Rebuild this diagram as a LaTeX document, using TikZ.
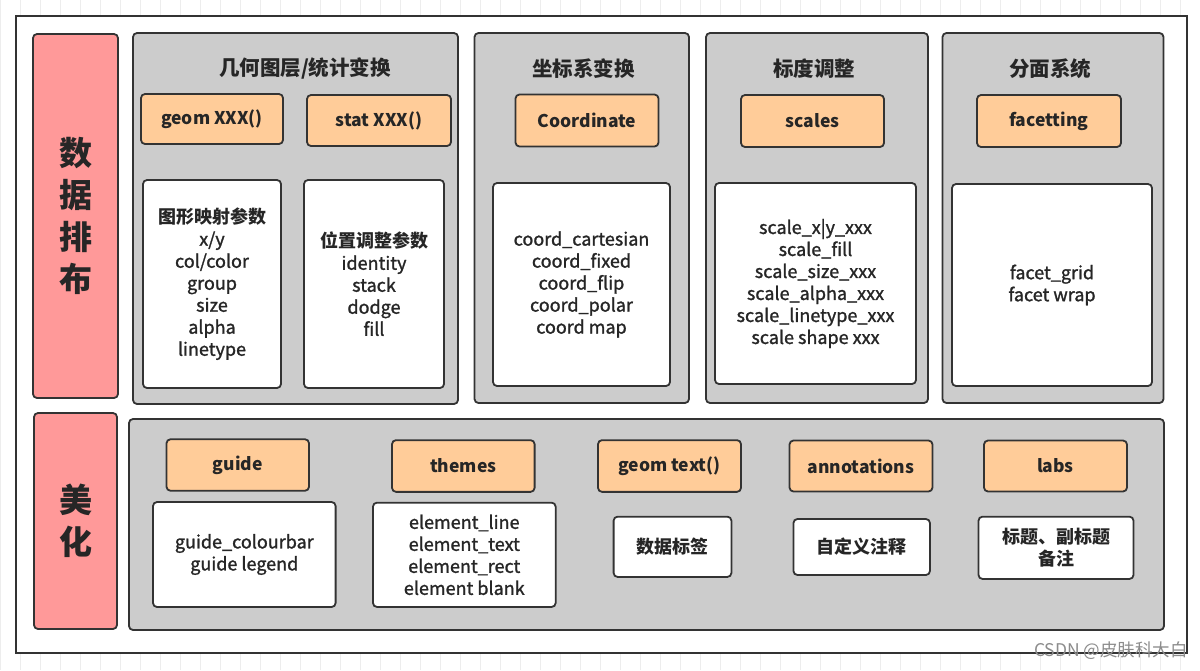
\documentclass[tikz,border=0pt]{standalone}
\usepackage{fontspec}
\setmainfont{Noto Sans CJK SC}
\newfontfamily\medfont[FakeBold=1.3]{Noto Sans CJK SC}
\definecolor{catred}{HTML}{FF9999}
\definecolor{tagorange}{HTML}{FFCC99}
\definecolor{panelgray}{HTML}{CCCCCC}
\definecolor{edge}{HTML}{333333}
\definecolor{ink}{HTML}{262626}
\begin{document}
\begin{tikzpicture}[x=1pt,y=-1pt,
  gridline/.style={draw=black!7, line width=0.6pt},
  frame/.style={draw=edge, line width=1.8pt, fill=white, inner sep=0pt},
  box/.style={draw=edge, line width=1.8pt, rounded corners=4pt, inner sep=0pt, align=center, text=ink},
  catbox/.style={box, fill=catred, font=\fontsize{33}{42}\selectfont\bfseries},
  panel/.style={box, fill=panelgray},
  title/.style={inner sep=0pt, text=ink, font=\fontsize{20.5}{24}\selectfont\bfseries},
  tag/.style={box, fill=tagorange, font=\fontsize{17.5}{22}\selectfont\bfseries},
  card/.style={box, fill=white, font=\fontsize{18}{22}\medfont},
  cjkcard/.style={box, fill=white, font=\fontsize{18}{22}\selectfont\bfseries},
  wmark/.style={inner sep=0pt, text=black!45, font=\fontsize{17.5}{20}\selectfont, anchor=east}
]
\useasboundingbox (0,0) rectangle (1200,670);
\fill[white] (0,0) rectangle (1200,670);
\draw[gridline] (0,0) grid[step=20] (1200,670);

\node[frame, minimum width=1171, minimum height=637] (frame) at (601.5,334.5) {};

% category bars
\node[catbox, minimum width=85, minimum height=364] (cat1) at (75.5,216) {数\\据\\排\\布};
\node[catbox, minimum width=83, minimum height=216] (cat2) at (75.5,521) {美\\化};

% panels
\node[panel, minimum width=325, minimum height=371] (p1) at (295.5,218.5) {};
\node[panel, minimum width=214.5, minimum height=370] (p2) at (581.75,218) {};
\node[panel, minimum width=222, minimum height=370] (p3) at (817,218) {};
\node[panel, minimum width=221, minimum height=370] (p4) at (1053,218) {};
\node[panel, minimum width=1035, minimum height=211] (p5) at (646.5,524.5) {};

% titles
\node[title] (t1) at (305,68) {几何图层/统计变换};
\node[title] (t2) at (583.5,69) {坐标系变换};
\node[title] (t3) at (814,69) {标度调整};
\node[title] (t4) at (1050,69) {分面系统};

% orange tags
\node[tag, minimum width=142, minimum height=50] (geom) at (212,119) {geom XXX()};
\node[tag, minimum width=144, minimum height=51] (stat) at (379,120.5) {stat XXX()};
\node[tag, minimum width=143, minimum height=52] (coord) at (587,120.5) {Coordinate};
\node[tag, minimum width=143, minimum height=52] (scales) at (812.5,121) {scales};
\node[tag, minimum width=144, minimum height=52] (facet) at (1049,121) {facetting};
\node[tag, minimum width=142.5, minimum height=51.5] (guide) at (237.75,465) {guide};
\node[tag, minimum width=142.6, minimum height=51.7] (themes) at (463.3,466) {themes};
\node[tag, minimum width=143, minimum height=51.7] (gtext) at (669.5,466) {geom text()};
\node[tag, minimum width=143, minimum height=51] (annot) at (861,466) {annotations};
\node[tag, minimum width=143, minimum height=51] (labs) at (1055.5,466) {labs};

% white cards
\node[card, minimum width=138, minimum height=208] (w1) at (212,284)
  {{\fontspec{Noto Sans CJK SC}\bfseries 图形映射参数}\\x/y\\col/color\\group\\size\\alpha\\linetype};
\node[card, minimum width=140, minimum height=208] (w2) at (374,284)
  {{\fontspec{Noto Sans CJK SC}\bfseries 位置调整参数}\\identity\\stack\\dodge\\fill};
\node[card, minimum width=177, minimum height=203] (w3) at (581.5,284.5)
  {coord\_cartesian\\coord\_fixed\\coord\_flip\\coord\_polar\\coord map};
\node[card, minimum width=201, minimum height=201] (w4) at (815.5,283.5)
  {scale\_x|y\_xxx\\scale\_fill\\scale\_size\_xxx\\scale\_alpha\_xxx\\scale\_linetype\_xxx\\scale shape xxx};
\node[card, minimum width=200, minimum height=202] (w5) at (1052,285)
  {facet\_grid\\facet wrap};
\node[card, minimum width=182.6, minimum height=105] (w6) at (244.3,554.5)
  {guide\_colourbar\\guide legend};
\node[card, minimum width=182.7, minimum height=104.3] (w7) at (464.3,554.8)
  {element\_line\\element\_text\\element\_rect\\element blank};
\node[cjkcard, minimum width=117.8, minimum height=60.3] (w8) at (672.5,546.8) {数据标签};
\node[cjkcard, minimum width=136.5, minimum height=56] (w9) at (861.7,547) {自定义注释};
\node[cjkcard, minimum width=155, minimum height=62.3] (w10) at (1056,547.8) {标题、副标题\\备注};

% watermark
\node[wmark] (wm) at (1188,651) {CSDN @皮肤科大白};
\end{tikzpicture}
\end{document}
